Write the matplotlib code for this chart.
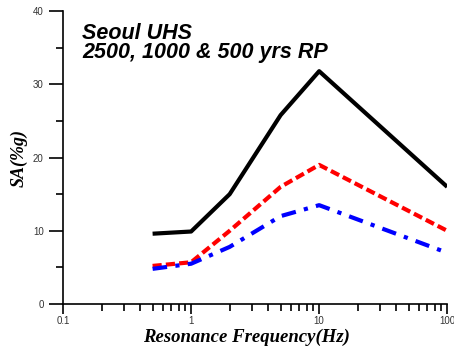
import matplotlib
matplotlib.use('Agg')
import matplotlib.pyplot as plt
from matplotlib.ticker import LogLocator, NullFormatter, FixedLocator

# Frecuencias (Hz) y espectros de respuesta (%g)
freq = [0.5, 1, 2, 5, 10, 100]
rp2500 = [9.6, 9.9, 15.0, 25.8, 31.8, 16.0]
rp1000 = [5.2, 5.7, 10.0, 16.0, 19.0, 10.0]
rp500 = [4.8, 5.5, 7.8, 12.0, 13.5, 7.0]

fig = plt.figure(figsize=(4.54, 3.49), dpi=100)
ax = fig.add_axes([0.139, 0.129, 0.846, 0.839])

ax.plot(freq, rp2500, color='black', lw=3, solid_capstyle='butt')
ax.plot(freq, rp1000, color='red', lw=3, ls=(0, (2.2, 1.0)))
ax.plot(freq, rp500, color='blue', lw=3, ls=(0, (3.5, 2.0, 1.0, 2.0)))

ax.set_xscale('log')
ax.set_xlim(0.1, 100)
ax.set_ylim(0, 40)

ax.spines['top'].set_visible(False)
ax.spines['right'].set_visible(False)
for s in ['left', 'bottom']:
    ax.spines[s].set_linewidth(1.2)

ax.set_xticks([0.1, 1, 10, 100])
ax.set_xticklabels(['0.1', '1', '10', '100'])
ax.xaxis.set_minor_locator(LogLocator(base=10, subs=range(2, 10)))
ax.xaxis.set_minor_formatter(NullFormatter())
ax.set_yticks([0, 10, 20, 30, 40])
ax.yaxis.set_minor_locator(FixedLocator([5, 15, 25, 35]))

ax.tick_params(which='both', direction='out', width=1.2, labelsize=7,
               colors='black', labelcolor='#333333')
ax.tick_params(axis='y', which='major', length=10, pad=4)
ax.tick_params(axis='y', which='minor', length=5)
ax.tick_params(axis='x', which='major', length=7, pad=2)
ax.tick_params(axis='x', which='minor', length=5)
for lab in ax.get_xticklabels() + ax.get_yticklabels():
    lab.set_family('Liberation Sans')

ax.set_xlabel('Resonance Frequency(Hz)', family='Liberation Serif', fontsize=13.5,
              fontweight='bold', style='italic')
ax.xaxis.set_label_coords(0.477, -0.084)
ax.set_ylabel('SA(%g)', family='Liberation Serif', fontsize=13,
              fontweight='bold', style='italic', labelpad=4)

ax.text(0.05, 0.958, 'Seoul UHS\n2500, 1000 & 500 yrs RP', transform=ax.transAxes,
        family='Liberation Sans', fontsize=15.5, fontweight='bold', style='italic',
        va='top', ha='left', linespacing=0.85)

fig.savefig('out.png', dpi=100)
